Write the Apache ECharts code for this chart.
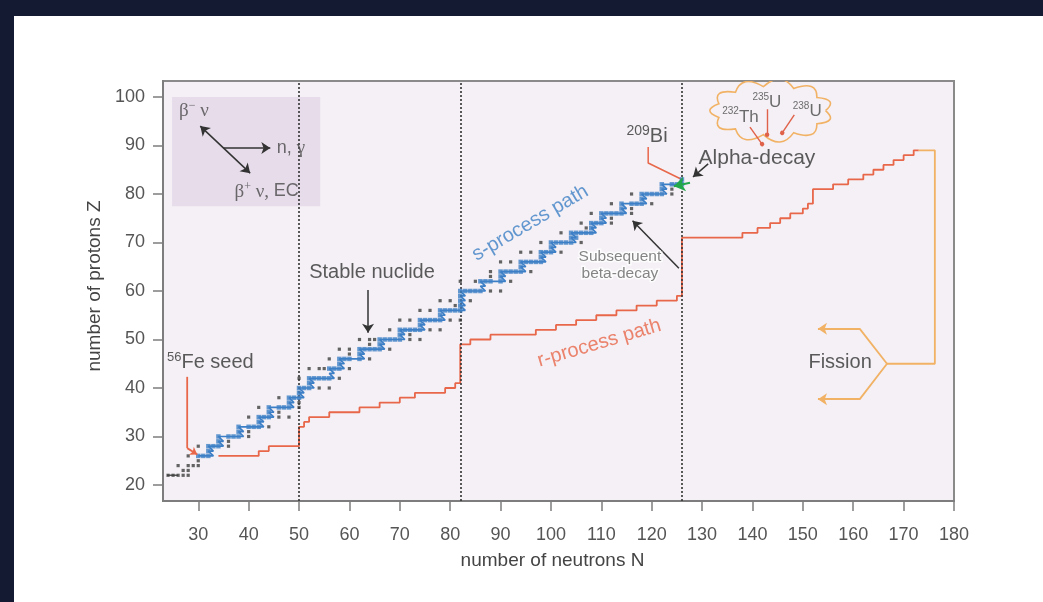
<!DOCTYPE html>
<html><head><meta charset="utf-8">
<script src="https://cdn.jsdelivr.net/npm/echarts@6/dist/echarts.min.js"></script>
<style>
html,body{margin:0;padding:0;background:#151a33;width:1043px;height:602px;overflow:hidden}
#panel{position:absolute;left:14px;top:16px;width:1029px;height:586px;background:#ffffff}
#chart{width:1029px;height:586px}
</style></head>
<body><div id="panel"><div id="chart"></div></div>
<script>
// ---------- data ----------
const xTicks = [30,40,50,60,70,80,90,100,110,120,130,140,150,160,170,180];
const yTicks = [20,30,40,50,60,70,80,90,100];
const magicN = [50, 82, 126];

// stable nuclides: proton number and the neutron numbers of its stable isotopes
const stableZ = [22,23,24,25,26,27,28,29,30,31,32,33,34,35,36,37,38,39,40,41,42,43,44,45,46,47,48,49,50,51,52,53,54,55,56,57,58,59,60,61,62,63,64,65,66,67,68,69,70,71,72,73,74,75,76,77,78,79,80,81,82,83];
const stableN = [
  [24,25,26,27,28],[27,28],[26,28,29,30],[30],[28,30,31,32],[32],[30,32,33,34,36],[34,36],
  [34,36,37,38,40],[38,40],[38,40,41,42,44],[42],[40,42,43,44,46,48],[44,46],[42,44,46,47,48,50],
  [48,50],[46,48,49,50],[50],[50,51,52,54,56],[52],[50,52,53,54,55,56,58],[],
  [52,54,55,56,57,58,60],[58],[56,58,59,60,62,64],[60,62],[58,60,62,63,64,65,66,68],[64,66],
  [62,64,65,66,67,68,69,70,72,74],[70,72],[68,70,71,72,73,74,76,78],[74],
  [70,72,74,75,76,77,78,80,82],[78],[74,76,78,79,80,81,82],[81,82],[78,80,82,84],[82],
  [82,83,84,85,86,88,90],[],[82,85,86,87,88,90,92],[88,90],[88,90,91,92,93,94,96],[94],
  [90,92,94,95,96,97,98],[98],[94,96,98,99,100,102],[100],[98,100,101,102,103,104,106],[104,105],
  [102,104,105,106,107,108],[107,108],[106,108,109,110,112],[110,112],[108,110,111,112,113,114,116],
  [114,116],[112,114,116,117,118,120],[118],[116,118,119,120,121,122,124],[122,124],[122,124,125,126],[126]
];

// s-process path: for each Z, the neutron range walked by captures
const sPathZ     = [26,27,28,29,30,31,32,33,34,35,36,37,38,39,40,41,42,43,44,45,46,47,48,49,50,51,52,53,54,55,56,57,58,59,60,61,62,63,64,65,66,67,68,69,70,71,72,73,74,75,76,77,78,79,80,81,82,83];
const sPathStart = [30,32,32,34,34,38,38,42,42,44,44,48,48,50,50,52,52,56,56,58,58,62,62,66,66,70,70,74,74,78,78,82,82,82,82,86,86,90,90,94,94,98,98,100,100,104,104,108,108,110,110,114,114,118,118,122,122,126];
const sPathEnd   = [33,33,35,35,39,39,43,43,45,45,49,49,51,51,53,53,57,57,59,59,63,63,67,67,71,71,75,75,79,79,83,83,83,83,87,87,91,91,95,95,99,99,101,101,105,105,109,109,111,111,115,115,119,119,123,123,126,126];

// light-element path below iron
const preFeN = [23.8, 26];
const preFeZ = [22, 22];

// r-process path: N where each Z level starts
const rStepN = [34,42,44,50,51,52,56,62,66,70,73,79,81,82,84,88,97,101,105,109,113,117,121,125,126,138,141,143.5,145.5,147.5,150,151,152,156,159,162,164,166,168,170,172];
const rStepZ = [26,27,28,32,33,34,35,36,37,38,39,40,41,49,50,51,52,53,54,55,56,57,58,59,71,72,73,74,75,76,77,78,81,82,83,84,85,86,87,88,89];
const rEndN = 173;

// fission return (N, Z)
const fissionN = [173, 176.2, 176.2, 166.7];
const fissionZ = [89, 89, 45, 45];
const fissionUpN = [166.7, 161.3, 153];
const fissionUpZ = [45, 52.2, 52.2];
const fissionDownN = [166.7, 161.3, 153];
const fissionDownZ = [45, 37.7, 37.7];

// ---------- build ----------
const FONT = "'Liberation Sans', Arial, sans-serif";
const SERIF = "'Liberation Serif', 'Times New Roman', serif";
const BLUE = '#3d7fc6', RED = '#e8674a', ORANGE = '#f2b265', DOT = '#404040', TXT = '#333333';

const dots = [], onPath = [];
stableZ.forEach((z, i) => {
  const k = sPathZ.indexOf(z);
  stableN[i].forEach(n => {
    if (k >= 0 && n >= sPathStart[k] && n <= sPathEnd[k]) onPath.push([n, z]);
    else dots.push([n, z]);
  });
});
const sLine = [];
sPathZ.forEach((z, i) => { sLine.push([sPathStart[i], z]); sLine.push([sPathEnd[i], z]); });
const rLine = [];
rStepN.forEach((n, i) => {
  rLine.push([n, rStepZ[i]]);
  rLine.push([i + 1 < rStepN.length ? rStepN[i + 1] : rEndN, rStepZ[i]]);
});
const zip = (a, b) => a.map((v, i) => [v, b[i]]);

function poly(data, color, width, z) {
  return {type: 'line', data, showSymbol: false, symbol: 'none', silent: true, z: z || 4,
    lineStyle: {color, width}, animation: false};
}
function arrows(list, color, width, sym, size, z) {
  return {type: 'lines', coordinateSystem: 'cartesian2d', silent: true, z: z || 6,
    symbol: sym, symbolSize: size, animation: false,
    lineStyle: {color, width, opacity: 1, curveness: 0},
    data: list.map(c => ({coords: c}))};
}
function note(pos, formatter, o) {
  return {value: pos, label: Object.assign({show: true, formatter, position: [0, 0],
    align: 'center', verticalAlign: 'middle', fontFamily: FONT, fontSize: 20, color: TXT}, o || {})};
}
const supRich = (main, sup, color) => ({
  s: {fontSize: sup, verticalAlign: 'top', lineHeight: sup + 1, color, fontFamily: FONT},
  m: {fontSize: main, lineHeight: main + 4, color, fontFamily: FONT}
});

const notes = [
  note([64.5, 63.9], 'Stable nuclide'),
  note([23.8, 45.2], '{s|56}{m|Fe seed}', {align: 'left', rich: supRich(20, 13, TXT)}),
  note([95.9, 74.0], 's-process path', {rotate: 30.5, color: BLUE, fontSize: 20}),
  note([109.6, 49.2], 'r-process path', {rotate: 16.5, color: RED, fontSize: 20}),
  note([113.7, 65.3], 'Subsequent\nbeta-decay', {fontSize: 15.5, lineHeight: 17, color: '#666666',
    textBorderColor: '#ffffff', textBorderWidth: 3}),
  note([115.0, 91.9], '{s|209}{m|Bi}', {align: 'left', rich: supRich(20, 14, TXT)}),
  note([140.9, 87.3], 'Alpha-decay', {fontSize: 21}),
  note([157.4, 45.2], 'Fission'),
  note([134.0, 95.9], '{s|232}{m|Th}', {align: 'left', rich: supRich(17, 10, '#4a4a4a')}),
  note([140.0, 98.8], '{s|235}{m|U}', {align: 'left', rich: supRich(17, 10, '#4a4a4a')}),
  note([148.0, 97.0], '{s|238}{m|U}', {align: 'left', rich: supRich(17, 10, '#4a4a4a')}),
  note([26.2, 97.1], '{b|β}{p|−}{b| ν}', {align: 'left', rich: {
    b: {fontFamily: SERIF, fontSize: 19, color: '#4a4a4a', lineHeight: 22},
    p: {fontFamily: SERIF, fontSize: 12, color: '#4a4a4a', verticalAlign: 'top', lineHeight: 12}}}),
  note([45.6, 89.5], '{m|n, }{b|γ}', {align: 'left', rich: {
    m: {fontFamily: FONT, fontSize: 18, color: '#4a4a4a', lineHeight: 22},
    b: {fontFamily: SERIF, fontSize: 19, color: '#4a4a4a', lineHeight: 22}}}),
  note([37.2, 80.5], '{b|β}{p|+}{b| ν, }{m|EC}', {align: 'left', rich: {
    b: {fontFamily: SERIF, fontSize: 19, color: '#4a4a4a', lineHeight: 22},
    p: {fontFamily: SERIF, fontSize: 12, color: '#4a4a4a', verticalAlign: 'top', lineHeight: 12},
    m: {fontFamily: FONT, fontSize: 18, color: '#4a4a4a', lineHeight: 22}}})
];

const CLOUD = {rx: 10.8, ry: 5.0};

const option = {
  animation: false,
  grid: {left: 149, top: 65, width: 791, height: 420, show: true,
    backgroundColor: '#f4f0f5', borderColor: '#8a8a8a', borderWidth: 2, containLabel: false,
    outerBoundsMode: 'none'},
  xAxis: {type: 'value', min: 23, max: 180,
    name: 'number of neutrons N', nameLocation: 'middle', nameGap: 50,
    nameTextStyle: {fontFamily: FONT, fontSize: 19, color: '#444', padding: [0, 12, 0, 0]},
    axisLine: {show: true, onZero: false, lineStyle: {color: '#7d7d7d', width: 2}},
    axisTick: {show: true, inside: false, length: 10, customValues: xTicks, lineStyle: {color: '#7d7d7d', width: 1.5}},
    axisLabel: {customValues: xTicks, margin: 25, fontFamily: FONT, fontSize: 18, color: '#555'},
    splitLine: {show: false}},
  yAxis: {type: 'value', min: 16.7, max: 103.3,
    name: 'number of protons Z', nameLocation: 'middle', nameGap: 58,
    nameTextStyle: {fontFamily: FONT, fontSize: 19, color: '#444', padding: [0, 0, 0, 10]},
    axisLine: {show: true, onZero: false, lineStyle: {color: '#7d7d7d', width: 2}},
    axisTick: {show: true, inside: false, length: 10, customValues: yTicks, lineStyle: {color: '#7d7d7d', width: 1.5}},
    axisLabel: {customValues: yTicks, margin: 18, fontFamily: FONT, fontSize: 18, color: '#555'},
    splitLine: {show: false}},
  series: [
    {type: 'line', data: [[23, 16.7]], showSymbol: false, symbol: 'none', silent: true, z: 1,
      lineStyle: {opacity: 0},
      markArea: {silent: true, itemStyle: {color: '#e6dcea'},
        data: [[{xAxis: 24.8, yAxis: 100}, {xAxis: 54.2, yAxis: 77.5}]]},
      markLine: {silent: true, symbol: ['none', 'none'], label: {show: false},
        lineStyle: {color: '#333333', type: [2, 2], width: 1.6},
        data: magicN.map(n => ({xAxis: n}))}},
    poly(zip(preFeN, preFeZ), '#555', 1.5, 3),
    {type: 'scatter', data: dots, symbol: 'rect', symbolSize: 3.2, silent: true, z: 3,
      itemStyle: {color: DOT}},
    poly(sLine, BLUE, 1.7, 4),
    {type: 'scatter', data: onPath, symbol: 'rect', symbolSize: 4.5, silent: true, z: 5,
      itemStyle: {color: BLUE}},
    poly(rLine, RED, 1.8, 4),
    poly(zip(fissionN, fissionZ), ORANGE, 1.8, 4),
    poly(zip(fissionUpN, fissionUpZ), ORANGE, 1.8, 4),
    poly(zip(fissionDownN, fissionDownZ), ORANGE, 1.8, 4),
    arrows([[[161.3, 52.2], [153, 52.2]], [[161.3, 37.7], [153, 37.7]]], ORANGE, 1.8, ['none', 'arrow'], 9),
    poly([[27.8, 42.3], [27.8, 27.6]], RED, 1.8, 5),
    arrows([[[27.8, 27.6], [29.8, 26.3]]], RED, 1.8, ['none', 'arrow'], 7),
    poly([[119.3, 89.7], [119.3, 86.4], [126, 83]], RED, 1.5, 5),
    arrows([[[127.6, 82.3], [124.4, 81.6]]], '#22a84a', 2, ['none', 'arrow'], 11, 7),
    arrows([[[63.7, 60.2], [63.7, 51.4]], [[125.4, 64.7], [116.2, 74.5]], [[35, 89.5], [44.3, 89.5]],
            [[131.2, 86.2], [128.2, 83.5]]], '#333', 1.5, ['none', 'arrow'], 9),
    arrows([[[30.4, 94], [40.3, 84.3]]], '#333', 1.5, ['arrow', 'arrow'], 9),
    arrows([[[139.5, 93.8], [141.9, 90.3]], [[142.9, 97.5], [142.9, 92.2]], [[148.3, 96.3], [145.9, 92.6]]],
      '#e0614a', 1.4, ['none', 'circle'], 4.5),
    {type: 'custom', data: [[143.7, 97.2]], silent: true, z: 4, clip: true,
      renderItem: function (params, api) {
        const cx = api.value(0), cy = api.value(1);
        const c = api.coord([cx, cy]);
        const e = api.coord([cx + CLOUD.rx, cy + CLOUD.ry]);
        const rx = Math.abs(e[0] - c[0]), ry = Math.abs(e[1] - c[1]);
        const n = 11, bump = 8;
        let d = '';
        for (let k = 0; k <= n; k++) {
          const t = 2 * Math.PI * k / n;
          const p = [c[0] + rx * Math.cos(t), c[1] + ry * Math.sin(t)];
          if (k === 0) d += 'M' + p[0] + ' ' + p[1];
          else {
            const tm = 2 * Math.PI * (k - 0.5) / n;
            const q = [c[0] + (rx + bump * 2) * Math.cos(tm), c[1] + (ry + bump * 2) * Math.sin(tm)];
            d += ' Q' + q[0] + ' ' + q[1] + ' ' + p[0] + ' ' + p[1];
          }
        }
        return {type: 'path', shape: {pathData: d}, style: {fill: 'none', stroke: ORANGE, lineWidth: 1.6}};
      }},
    {type: 'scatter', data: notes, symbolSize: 0.1, silent: true, z: 8,
      itemStyle: {color: 'rgba(0,0,0,0)'}}
  ]
};
const chart = echarts.init(document.getElementById('chart'), null, {renderer: 'canvas'});
chart.setOption(option);
</script>
</body></html>
